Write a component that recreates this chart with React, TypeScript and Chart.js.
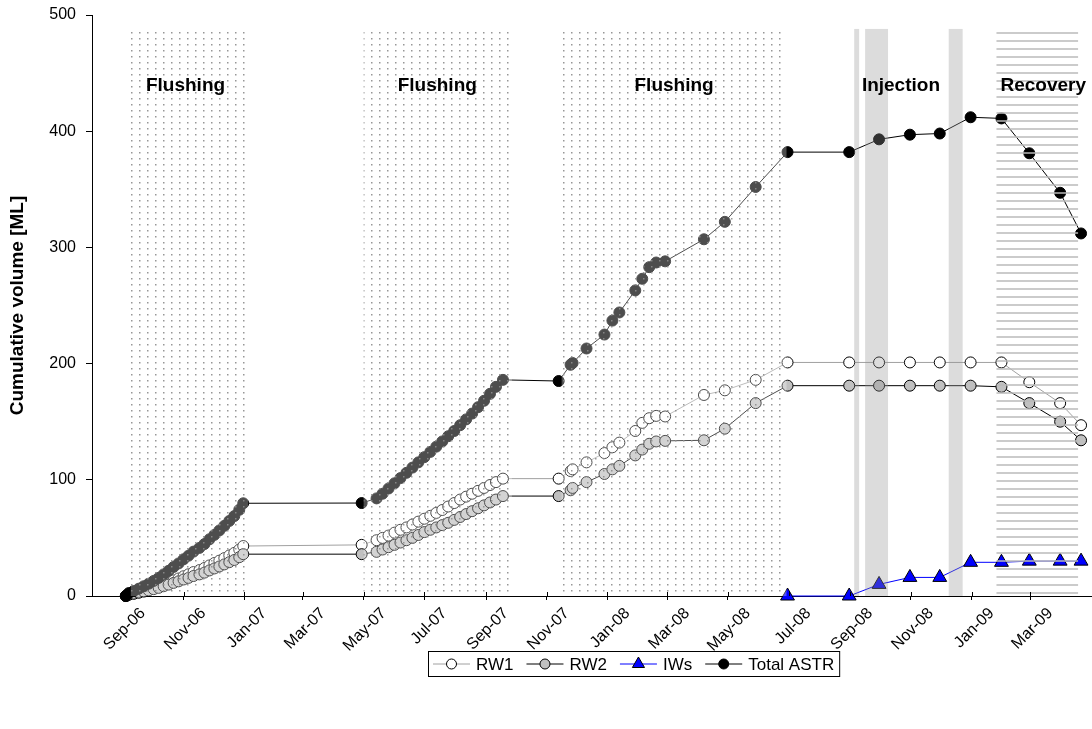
import React, { useEffect, useRef } from "react";
import { Chart, registerables } from "chart.js";

Chart.register(...registerables);

// ---- categories (sampling dates shared by RW1, RW2 and Total ASTR) ----
const DATES = [
  "2006-09-04", "2006-09-07", "2006-09-12", "2006-09-17", "2006-09-22", "2006-09-27",
  "2006-10-02", "2006-10-07", "2006-10-12", "2006-10-17", "2006-10-22", "2006-10-27",
  "2006-11-01", "2006-11-06", "2006-11-11", "2006-11-17", "2006-11-22", "2006-11-27",
  "2006-12-02", "2006-12-07", "2006-12-12", "2006-12-17", "2006-12-22", "2006-12-27",
  "2006-12-31",
  "2007-04-29",
  "2007-05-14", "2007-05-20", "2007-05-26", "2007-06-01", "2007-06-07", "2007-06-13",
  "2007-06-19", "2007-06-25", "2007-07-01", "2007-07-07", "2007-07-13", "2007-07-19",
  "2007-07-25", "2007-07-31", "2007-08-06", "2007-08-12", "2007-08-18", "2007-08-24",
  "2007-08-30", "2007-09-05", "2007-09-11", "2007-09-18",
  "2007-11-13", "2007-11-25", "2007-11-27", "2007-12-11", "2007-12-29", "2008-01-06",
  "2008-01-13", "2008-01-29", "2008-02-05", "2008-02-12", "2008-02-19", "2008-02-28",
  "2008-04-07", "2008-04-28", "2008-05-29",
  "2008-06-30", "2008-08-31", "2008-09-30", "2008-10-31", "2008-11-30", "2008-12-31",
  "2009-01-31", "2009-02-28", "2009-03-31", "2009-04-21",
];

const RW1 = [
  0, 1.3, 2.3, 3.4, 4.5, 5.7, 7, 8.4, 10, 11.7, 13.5, 15.1, 17, 18.7, 20.6, 22.3, 24.1, 26.3,
  28.4, 30.4, 32.6, 34.9, 37.1, 40, 43,
  44,
  48, 50, 52, 54.5, 57, 59, 61.5, 64, 66.5, 69, 71.5, 74, 77, 80, 83, 85.5, 88, 90.5, 93, 95.5,
  98, 101,
  101, 107.5, 109, 115, 123, 128, 132, 142, 149, 153, 155, 154.5, 173, 177, 186,
  201, 201, 201, 201, 201, 201, 201, 184, 166, 147,
];

const RW2 = [
  0, 1.1, 1.9, 2.8, 3.8, 4.8, 5.9, 7, 8.4, 9.8, 11.3, 12.6, 14.2, 15.6, 17.2, 18.6, 20.1, 22,
  23.7, 25.4, 27.2, 29.1, 31, 33.4, 36,
  36,
  38, 40, 42, 44, 46, 48, 50, 52.5, 55, 57, 59, 61, 63, 65.5, 68, 70.5, 73, 75.5, 78, 80.5,
  83, 86,
  86, 91, 93, 98, 105, 109, 112, 121, 126, 131, 133, 133.5, 134, 144, 166,
  181, 181, 181, 181, 181, 181, 180, 166, 150, 134,
];

const TOTAL_ASTR = [
  0, 2.5, 4.3, 6.3, 8.4, 10.6, 13, 15.6, 18.6, 21.7, 25, 28, 31.6, 34.7, 38.2, 41.4, 44.7,
  48.8, 52.6, 56.4, 60.4, 64.6, 68.8, 74.2, 79.8,
  80,
  84, 88, 92.5, 97, 101.5, 106, 110.5, 115, 119.5, 124, 128.5, 133, 137.5, 142, 147, 152, 157,
  162.5, 168, 174, 180, 186,
  185, 199, 200.5, 213, 225, 237, 244, 263, 273, 283, 287, 288, 307, 322, 352,
  382, 382, 393, 397, 398, 412, 411, 381, 347, 312,
];

const IW_DATES = [
  "2008-06-30", "2008-08-31", "2008-09-30", "2008-10-31", "2008-11-30", "2008-12-31",
  "2009-01-31", "2009-02-28", "2009-03-31", "2009-04-21",
];
const IWS = [0, 0, 10, 16, 16, 29, 29, 30, 30, 30];

// ---- axis ----
const X_MIN = "2006-08-01";
const X_MAX = "2009-05-01";
const TICK_DATES = [
  "2006-09-01", "2006-11-01", "2007-01-01", "2007-03-01", "2007-05-01", "2007-07-01",
  "2007-09-01", "2007-11-01", "2008-01-01", "2008-03-01", "2008-05-01", "2008-07-01",
  "2008-09-01", "2008-11-01", "2009-01-01", "2009-03-01",
];
const TICK_LABELS = [
  "Sep-06", "Nov-06", "Jan-07", "Mar-07", "May-07", "Jul-07", "Sep-07", "Nov-07",
  "Jan-08", "Mar-08", "May-08", "Jul-08", "Sep-08", "Nov-08", "Jan-09", "Mar-09",
];
const Y_MAX = 500;
const Y_STEP = 100;

// ---- phases ----
const FLUSHING_PERIODS = [
  ["2006-09-09", "2007-01-05"],
  ["2007-05-01", "2007-09-27"],
  ["2007-11-16", "2008-06-29"],
];
const INJECTION_PERIODS = [
  ["2008-09-05", "2008-09-10"],
  ["2008-09-16", "2008-10-09"],
  ["2008-12-09", "2008-12-23"],
];
const RECOVERY_PERIODS = [["2009-01-26", "2009-04-18"]];
const PHASE_NAMES = ["Flushing", "Flushing", "Flushing", "Injection", "Recovery"];
const PHASE_LABEL_DATES = ["2006-11-03", "2007-07-14", "2008-03-08", "2008-10-22", "2009-03-14"];
const PHASE_TOP = 488;
const PHASE_LABEL_VALUE = 439;

const FONT = "'Liberation Sans', Arial, Helvetica, sans-serif";

function toDay(s: string): number {
  const [y, m, d] = s.split("-").map(Number);
  return Date.UTC(y, m - 1, d) / 86400000;
}
const pts = (dates: string[], vals: number[]) => dates.map((d, i) => ({ x: toDay(d), y: vals[i] }));

export default function App() {
  const ref = useRef<HTMLCanvasElement>(null);

  useEffect(() => {
    const canvas = ref.current!;
    const c2 = canvas.getContext("2d")!;

    const dotCanvas = document.createElement("canvas");
    dotCanvas.width = 8;
    dotCanvas.height = 6;
    const dc = dotCanvas.getContext("2d")!;
    dc.fillStyle = "rgba(255,255,255,0.3)";
    dc.fillRect(0, 0, 8, 6);
    dc.fillStyle = "rgba(140,140,140,0.9)";
    dc.fillRect(3, 2, 1.5, 1.5);
    const dotPattern = c2.createPattern(dotCanvas, "repeat")!;

    const phasePlugin = {
      id: "phases",
      afterDatasetsDraw(chart: any) {
        const { ctx, scales } = chart;
        const x = scales.x;
        const y = scales.y;
        const yt = y.getPixelForValue(PHASE_TOP);
        const yb = y.getPixelForValue(0);
        ctx.save();
        FLUSHING_PERIODS.forEach(([a, b]) => {
          const x0 = x.getPixelForValue(toDay(a));
          const x1 = x.getPixelForValue(toDay(b));
          ctx.fillStyle = dotPattern;
          ctx.fillRect(x0, yt, x1 - x0, yb - yt);
        });
        INJECTION_PERIODS.forEach(([a, b]) => {
          const x0 = x.getPixelForValue(toDay(a));
          const x1 = x.getPixelForValue(toDay(b));
          ctx.fillStyle = "rgba(150,150,150,0.33)";
          ctx.fillRect(x0, yt, x1 - x0, yb - yt);
        });
        RECOVERY_PERIODS.forEach(([a, b]) => {
          const x0 = x.getPixelForValue(toDay(a));
          const x1 = x.getPixelForValue(toDay(b));
          ctx.fillStyle = "rgba(185,185,185,0.75)";
          for (let yy = yb - 4; yy > yt + 2; yy -= 8) {
            ctx.fillRect(x0, yy, x1 - x0, 2);
          }
        });
        ctx.fillStyle = "#000";
        ctx.font = `bold 19px ${FONT}`;
        ctx.textAlign = "center";
        ctx.textBaseline = "middle";
        PHASE_NAMES.forEach((name, i) => {
          ctx.fillText(name, x.getPixelForValue(toDay(PHASE_LABEL_DATES[i])), y.getPixelForValue(PHASE_LABEL_VALUE));
        });
        // upper half of crossing tick marks on the x axis
        ctx.strokeStyle = "#000";
        ctx.lineWidth = 1;
        TICK_DATES.forEach((d) => {
          const px = Math.round(x.getPixelForValue(toDay(d))) + 0.5;
          ctx.beginPath();
          ctx.moveTo(px, yb - 4);
          ctx.lineTo(px, yb);
          ctx.stroke();
        });
        ctx.restore();
      },
    };

    const legendPlugin = {
      id: "boxLegend",
      afterDraw(chart: any) {
        const { ctx } = chart;
        const ds = chart.data.datasets;
        const order = [0, 1, 2, 3];
        ctx.save();
        ctx.font = `17px ${FONT}`;
        const lineLen = 37;
        const gapText = 6;
        const gapItem = 13;
        const pad = 5;
        let width = pad * 2;
        order.forEach((i, k) => {
          width += lineLen + gapText + ctx.measureText(ds[i].label).width + (k < order.length - 1 ? gapItem : 0);
        });
        const left = 428;
        const top = 651;
        const h = 25;
        ctx.fillStyle = "#fff";
        ctx.fillRect(left, top, width, h);
        ctx.strokeStyle = "#000";
        ctx.lineWidth = 1;
        ctx.strokeRect(left + 0.5, top + 0.5, width, h);
        const cy = top + h / 2 + 0.5;
        let cx = left + pad;
        order.forEach((i) => {
          const d = ds[i];
          ctx.strokeStyle = d.borderColor;
          ctx.lineWidth = 1;
          ctx.beginPath();
          ctx.moveTo(cx, cy);
          ctx.lineTo(cx + lineLen, cy);
          ctx.stroke();
          const mx = cx + lineLen / 2;
          ctx.fillStyle = d.pointBackgroundColor;
          ctx.strokeStyle = d.pointBorderColor;
          ctx.beginPath();
          if (d.pointStyle === "triangle") {
            const r = 7;
            ctx.moveTo(mx, cy - r);
            ctx.lineTo(mx + r * 0.866, cy + r / 2);
            ctx.lineTo(mx - r * 0.866, cy + r / 2);
            ctx.closePath();
          } else {
            ctx.arc(mx, cy, 5, 0, Math.PI * 2);
          }
          ctx.fill();
          ctx.stroke();
          cx += lineLen + gapText;
          ctx.fillStyle = "#000";
          ctx.textAlign = "left";
          ctx.textBaseline = "middle";
          ctx.fillText(d.label, cx, cy + 1);
          cx += ctx.measureText(d.label).width + gapItem;
        });
        ctx.restore();
      },
    };

    const chart = new Chart(canvas, {
      type: "line",
      data: {
        datasets: [
          {
            label: "RW1",
            data: pts(DATES, RW1),
            borderColor: "#a0a0a0",
            borderWidth: 1,
            pointStyle: "circle",
            pointRadius: 5.5,
            pointBackgroundColor: "#ffffff",
            pointBorderColor: "#000000",
            pointBorderWidth: 1,
            order: 3,
            clip: false,
          },
          {
            label: "RW2",
            data: pts(DATES, RW2),
            borderColor: "#000000",
            borderWidth: 1,
            pointStyle: "circle",
            pointRadius: 5.5,
            pointBackgroundColor: "#c0c0c0",
            pointBorderColor: "#000000",
            pointBorderWidth: 1,
            order: 2,
            clip: false,
          },
          {
            label: "IWs",
            data: pts(IW_DATES, IWS),
            borderColor: "#0000ff",
            borderWidth: 1,
            pointStyle: "triangle",
            pointRadius: 8,
            pointBackgroundColor: "#0000ff",
            pointBorderColor: "#000000",
            pointBorderWidth: 1,
            order: 1,
            clip: false,
          },
          {
            label: "Total ASTR",
            data: pts(DATES, TOTAL_ASTR),
            borderColor: "#000000",
            borderWidth: 1,
            pointStyle: "circle",
            pointRadius: 5.5,
            pointBackgroundColor: "#000000",
            pointBorderColor: "#000000",
            pointBorderWidth: 1,
            order: 0,
            clip: false,
          },
        ] as any,
      },
      options: {
        animation: false,
        responsive: true,
        maintainAspectRatio: false,
        layout: { autoPadding: false, padding: { top: 15, right: 1, bottom: 73, left: 0 } },
        plugins: { legend: { display: false }, tooltip: { enabled: false } },
        elements: { line: { tension: 0 } },
        scales: {
          x: {
            type: "linear",
            min: toDay(X_MIN),
            max: toDay(X_MAX),
            afterBuildTicks: (scale: any) => {
              scale.ticks = TICK_DATES.map((d) => ({ value: toDay(d) }));
            },
            afterFit: (scale: any) => {
              scale.height = 60;
              scale.paddingLeft = 0;
              scale.paddingRight = 0;
            },
            grid: { display: true, drawOnChartArea: false, drawTicks: true, tickLength: 4, color: "#000" },
            border: { display: true, color: "#000", width: 1 },
            ticks: {
              autoSkip: false,
              minRotation: 45,
              maxRotation: 45,
              labelOffset: 20,
              padding: 4,
              color: "#000",
              font: { family: FONT, size: 16 },
              callback: (_v: any, i: number) => TICK_LABELS[i],
            },
          },
          y: {
            type: "linear",
            min: 0,
            max: Y_MAX,
            afterFit: (scale: any) => {
              scale.width = 92;
              scale.paddingTop = 0;
              scale.paddingBottom = 0;
            },
            grid: { display: true, drawOnChartArea: false, drawTicks: true, tickLength: 6, color: "#000" },
            border: { display: true, color: "#000", width: 1 },
            ticks: {
              stepSize: Y_STEP,
              padding: 10,
              color: "#000",
              font: { family: FONT, size: 16 },
            },
            title: {
              display: true,
              text: "Cumulative volume [ML]",
              color: "#000",
              font: { family: FONT, size: 19, weight: "bold" },
              padding: { top: 6, bottom: 0 },
            },
          },
        },
      } as any,
      plugins: [phasePlugin, legendPlugin],
    });

    return () => chart.destroy();
  }, []);

  return (
    <div style={{ position: "absolute", left: 0, top: 0, width: 1092, height: 729, background: "#fff" }}>
      <canvas ref={ref} />
    </div>
  );
}
